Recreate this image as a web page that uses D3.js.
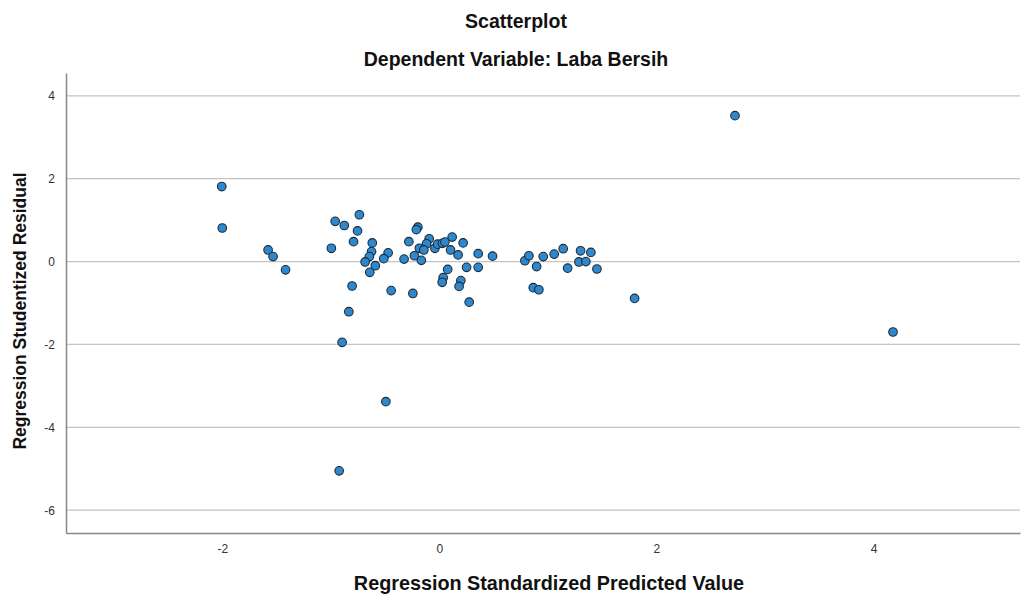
<!DOCTYPE html>
<html>
<head>
<meta charset="utf-8">
<script src="https://cdn.jsdelivr.net/npm/d3@7"></script>
<style>
  body { margin: 0; background: #fff; }
  text { font-family: "Liberation Sans", Arial, sans-serif; }
</style>
</head>
<body>
<svg id="chart" width="1023" height="597"></svg>
<script>
// values
let predicted = [
  -2.005, -2.00, -1.578, -1.532, -1.417, -0.995, -0.960, -0.876, -0.737, -0.754,
  -0.791, -0.618, -0.625, -0.645, -0.684, -0.590, -0.641, -0.472, -0.512, -0.804,
  -0.834, -0.896, -0.444, -0.493, -0.923, -0.244, -0.325, -0.281, -0.198, -0.212,
  -0.230, -0.184, -0.166, -0.094, -0.118, -0.041, -0.016, 0.028, 0.051, 0.118,
  0.103, 0.173, 0.219, 0.358, 0.490, 0.077, 0.251, 0.358, 0.035, 0.026,
  0.198, 0.182, 0.275, 0.788, 0.825, 0.896, 0.957, 1.058, 1.141, 1.182,
  1.301, 1.286, 1.350, 1.396, 1.452, 0.865, 0.917, 1.799, 2.724, 4.180,
  -0.143
];
let residual = [
  1.81, 0.81, 0.28, 0.12, -0.20, 0.32, 0.97, 0.87, 1.13, 0.74,
  0.48, 0.45, 0.24, 0.12, -0.01, -0.10, -0.26, 0.21, 0.07, -0.59,
  -1.21, -1.95, -0.70, -3.38, -5.05, -0.77, 0.06, 0.48, 0.83, 0.77,
  0.14, 0.32, 0.03, 0.55, 0.43, 0.32, 0.42, 0.44, 0.47, 0.59,
  0.28, 0.16, 0.45, 0.19, 0.13, -0.19, -0.14, -0.14, -0.39, -0.50,
  -0.46, -0.60, -0.98, 0.02, 0.14, -0.12, 0.12, 0.18, 0.31, -0.16,
  0.26, -0.01, 0.00, 0.22, -0.18, -0.63, -0.68, -0.89, 3.52, -1.70,
  0.28
];
let xTicks = [-2, 0, 2, 4];
let yTicks = [4, 2, 0, -2, -4, -6];

let svg = d3.select("#chart");

let plotLeft = 66, plotRight = 1020, plotTop = 73, plotBottom = 533;

let x = d3.scaleLinear().domain([-3.44, 5.35]).range([plotLeft, plotRight]);
let y = d3.scaleLinear().domain([-6.55, 4.55]).range([plotBottom, plotTop]);

// titles
svg.append("text")
  .attr("x", 516).attr("y", 28)
  .attr("text-anchor", "middle")
  .style("font-size", "19.5px").style("font-weight", "bold")
  .attr("fill", "#111")
  .text("Scatterplot");

svg.append("text")
  .attr("x", 516).attr("y", 66)
  .attr("text-anchor", "middle")
  .style("font-size", "19.5px").style("font-weight", "bold")
  .attr("fill", "#111")
  .text("Dependent Variable: Laba Bersih");

// gridlines
svg.append("g")
  .selectAll("line")
  .data(yTicks)
  .enter()
  .append("line")
  .attr("x1", plotLeft).attr("x2", plotRight)
  .attr("y1", d => y(d)).attr("y2", d => y(d))
  .attr("stroke", "#c4c4c4")
  .attr("stroke-width", 1.2);

// y axis
let yAxis = svg.append("g")
  .attr("transform", "translate(" + plotLeft + ",0)")
  .call(d3.axisLeft(y).tickValues(yTicks).tickFormat(d => String(d)).tickSize(0).tickPadding(11));
yAxis.select(".domain").attr("stroke", "#888").attr("stroke-width", 1.5);
yAxis.selectAll("text").style("font-size", "12px").attr("fill", "#333")
  .style("font-family", "'Liberation Sans', Arial, sans-serif");

// x axis
let xAxis = svg.append("g")
  .attr("transform", "translate(0," + plotBottom + ")")
  .call(d3.axisBottom(x).tickValues(xTicks).tickFormat(d => String(d)).tickSize(0).tickPadding(11));
xAxis.select(".domain").attr("stroke", "#888").attr("stroke-width", 1.5);
xAxis.selectAll("text").style("font-size", "12px").attr("fill", "#333")
  .style("font-family", "'Liberation Sans', Arial, sans-serif");

// axis titles
svg.append("text")
  .attr("x", 549).attr("y", 590)
  .attr("text-anchor", "middle")
  .style("font-size", "19.8px").style("font-weight", "bold")
  .attr("fill", "#111")
  .text("Regression Standardized Predicted Value");

svg.append("text")
  .attr("transform", "translate(26," + 311 + ") rotate(-90)")
  .attr("text-anchor", "middle")
  .style("font-size", "17.5px").style("font-weight", "bold")
  .attr("fill", "#111")
  .text("Regression Studentized Residual");

// points
let points = predicted.map((d, i) => ({ p: d, r: residual[i] }));

svg.append("g")
  .selectAll("circle")
  .data(points)
  .enter()
  .append("circle")
  .attr("cx", d => x(d.p))
  .attr("cy", d => y(d.r))
  .attr("r", 4.3)
  .attr("fill", "#2f88cc")
  .attr("stroke", "#1a2b3c")
  .attr("stroke-width", 1.1);
</script>
</body>
</html>
